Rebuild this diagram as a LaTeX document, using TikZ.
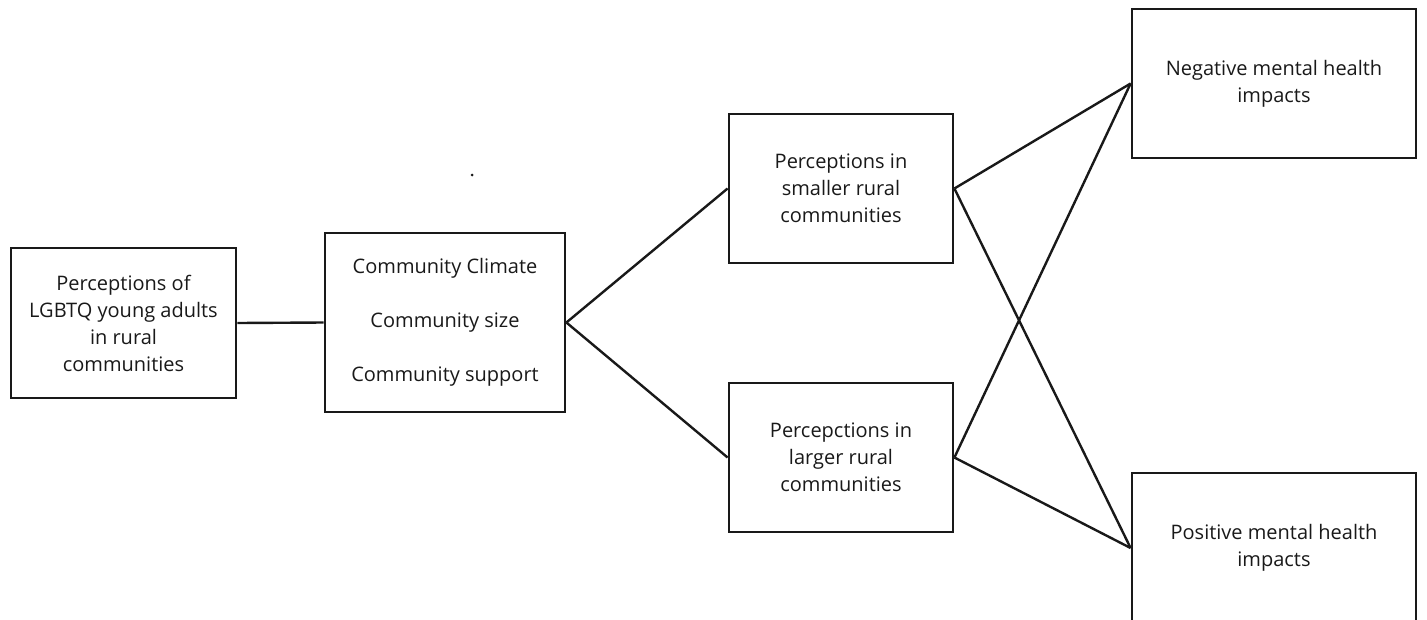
\documentclass[tikz,border=0pt]{standalone}
\usepackage{fontspec}
\setmainfont{Open Sans}
\begin{document}
\begin{tikzpicture}[x=1pt,y=-1pt,
  box/.style={draw=black!90, line width=2.8pt, align=center, inner sep=0pt,
    font=\fontsize{20}{27}\selectfont, text=black!90},
  link/.style={draw=black!90, line width=2.4pt}]
\useasboundingbox (0,0) rectangle (1427,619);
\node[box, minimum width=225pt, minimum height=150pt] (p) at (123.5,323)
  {Perceptions of\\LGBTQ young adults\\in rural\\communities};
\node[box, minimum width=240pt, minimum height=179pt] (c) at (445,322.5)
  {Community Climate\\[27pt]Community size\\[27pt]Community support};
\node[box, minimum width=224pt, minimum height=149pt] (s) at (841,188.5)
  {Perceptions in\\smaller rural\\communities};
\node[box, minimum width=224pt, minimum height=149pt] (l) at (841,457.5)
  {Percepctions in\\larger rural\\communities};
\node[box, minimum width=284pt, minimum height=149pt] (n) at (1274,83.5)
  {Negative mental health\\impacts};
\node[box, minimum width=284pt, minimum height=150pt] (q) at (1274,548)
  {Positive mental health\\impacts};
\fill[black!90] (472,175) circle (1.5pt);
\draw[link] (p.east) -- (c.west);
\draw[link] (c.east) -- (s.west);
\draw[link] (c.east) -- (l.west);
\draw[link] (s.east) -- (n.west);
\draw[link] (s.east) -- (q.west);
\draw[link] (l.east) -- (n.west);
\draw[link] (l.east) -- (q.west);
\end{tikzpicture}
\end{document}
